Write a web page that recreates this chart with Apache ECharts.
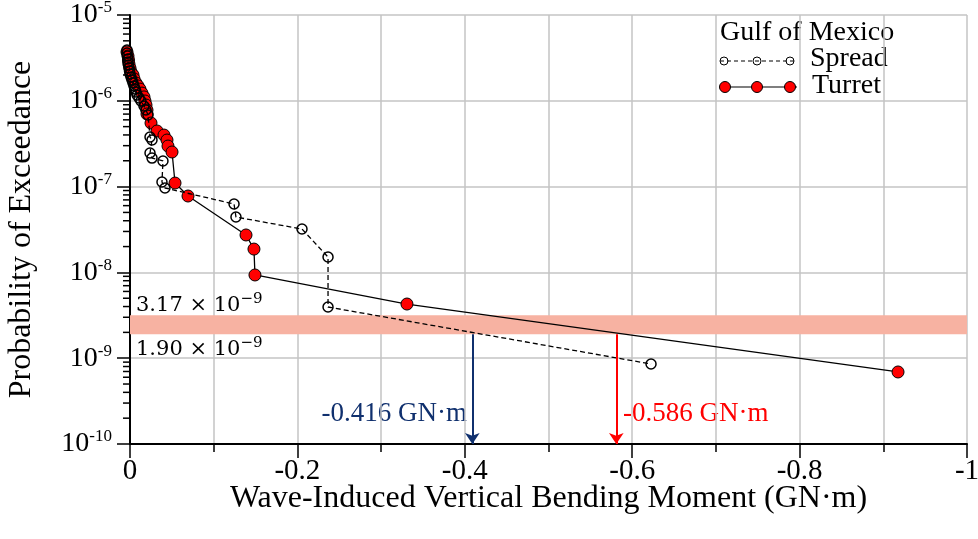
<!DOCTYPE html>
<html><head><meta charset="utf-8">
<script src="https://cdn.jsdelivr.net/npm/echarts@6/dist/echarts.min.js"></script>
<style>html,body{margin:0;padding:0;background:#fff}#c{width:978px;height:539px}</style>
</head><body><div id="c"></div>
<script>
// Spread (Gulf of Mexico) – VBM (GN·m) vs probability of exceedance
const spreadX = [0.0036,0.0036,0.003,0.0024,0.0024,0.0018,0.0012,0.0006,0,-0.0012,-0.0024,-0.0036,-0.0048,-0.006,-0.0072,-0.0084,-0.0108,-0.0131,-0.0167,-0.0191,-0.0215,-0.0239,-0.0263,-0.0239,-0.0263,-0.0394,-0.0382,-0.0418,-0.1243,-0.1266,-0.2055,-0.2366,-0.2366,-0.6225];
const spreadY = [3.91e-6,3.61e-6,3.33e-6,3.07e-6,2.83e-6,2.61e-6,2.41e-6,2.23e-6,2.05e-6,1.89e-6,1.75e-6,1.61e-6,1.49e-6,1.37e-6,1.27e-6,1.17e-6,1.08e-6,9.95e-7,8.70e-7,7.81e-7,6.83e-7,3.78e-7,3.49e-7,2.46e-7,2.15e-7,1.99e-7,1.13e-7,9.63e-8,6.27e-8,4.42e-8,3.20e-8,1.51e-8,3.95e-9,8.56e-10];
// Turret (Gulf of Mexico)
const turretX = [0.0036,0.0024,0.0018,0.0012,0,-0.0012,-0.0036,-0.0048,-0.0072,-0.0096,-0.0119,-0.0143,-0.0167,-0.0179,-0.0191,-0.0203,-0.0203,-0.0251,-0.0323,-0.0406,-0.0442,-0.0454,-0.0502,-0.0538,-0.0693,-0.1386,-0.1481,-0.1493,-0.3309,-0.9176];
const turretY = [3.71e-6,3.33e-6,2.99e-6,2.68e-6,2.41e-6,2.17e-6,2.00e-6,1.80e-6,1.61e-6,1.49e-6,1.37e-6,1.23e-6,1.11e-6,9.95e-7,8.93e-7,7.81e-7,7.02e-7,5.51e-7,4.45e-7,3.99e-7,3.49e-7,2.97e-7,2.53e-7,1.10e-7,7.77e-8,2.73e-8,1.87e-8,9.33e-9,4.28e-9,6.91e-10];
// Target exceedance band and crossing moments
const bandLow = 1.90e-9, bandHigh = 3.17e-9;
const crossSpread = -0.409, crossTurret = -0.581;
const crossSpreadLabel = '-0.416 GN·m', crossTurretLabel = '-0.586 GN·m';
const decades = [-10,-9,-8,-7,-6];
const xMin = -1, xMax = 0, xStep = 0.2;
const yMin = 1e-10, yMax = 1e-5;

const minorVals = [];
decades.forEach(e => { for (let k = 2; k <= 9; k++) minorVals.push([0, k * Math.pow(10, e)]); });

const serif = 'Liberation Serif';
const chart = echarts.init(document.getElementById('c'));
const supRich = {
  b: {fontFamily: 'DejaVu Serif', fontSize: 21, color: '#000'},
  s: {fontFamily: 'DejaVu Serif', fontSize: 15, color: '#000', padding: [0,0,12,0]}
};
chart.setOption({
  animation: false,
  grid: {left: 130, right: 11, top: 15, bottom: 95, containLabel: false, outerBoundsMode: 'none'},
  xAxis: {
    type: 'value', inverse: true, min: xMin, max: xMax, interval: xStep,
    name: 'Wave-Induced Vertical Bending Moment (GN·m)', nameLocation: 'middle', nameGap: 39, nameMoveOverlap: false,
    nameTextStyle: {fontFamily: serif, fontSize: 32, color: '#000'},
    axisLine: {show: true, onZero: false, lineStyle: {color: '#000', width: 2}},
    axisTick: {show: true, length: 14, lineStyle: {color: '#000', width: 1.5}},
    minorTick: {show: true, splitNumber: 2, length: 8, lineStyle: {color: '#000', width: 1.5}},
    axisLabel: {fontFamily: serif, fontSize: 29, color: '#000', margin: 13,
      formatter: v => Math.abs(v) < 1e-9 ? '0' : String(Math.round(v * 10) / 10)},
    splitLine: {show: true, lineStyle: {color: '#c4c4c4', width: 1.5}},
    minorSplitLine: {show: true, lineStyle: {color: '#c4c4c4', width: 1.5}}
  },
  yAxis: {
    type: 'log', logBase: 10, min: yMin, max: yMax,
    name: 'Probability of Exceedance', nameLocation: 'middle', nameGap: 92, nameRotate: 90, nameMoveOverlap: false,
    nameTextStyle: {fontFamily: serif, fontSize: 32, color: '#000'},
    axisLine: {show: true, onZero: false, lineStyle: {color: '#000', width: 2}},
    axisTick: {show: true, length: 13, lineStyle: {color: '#000', width: 1.5}},
    axisLabel: {margin: 18, color: '#000',
      formatter: v => '{b|10}{s|' + Math.round(Math.log10(v)) + '}',
      rich: {b: {fontFamily: serif, fontSize: 28, color: '#000'}, s: {fontFamily: serif, fontSize: 17, color: '#000', padding: [0,0,14,0]}}},
    splitLine: {show: true, lineStyle: {color: '#c4c4c4', width: 1.5}}
  },
  series: [
    {
      type: 'custom', silent: true, clip: false, z: 1,
      data: minorVals,
      renderItem: (params, api) => {
        const p = api.coord([api.value(0), api.value(1)]);
        return {type: 'line', shape: {x1: p[0] - 7, y1: p[1], x2: p[0], y2: p[1]}, style: {stroke: '#000', lineWidth: 1.5}};
      }
    },
    {
      name: 'Turret', type: 'line', clip: false, z: 3,
      data: turretX.map((x, i) => [x, turretY[i]]),
      symbol: 'circle', symbolSize: 12,
      itemStyle: {color: '#ff0000', borderColor: '#000', borderWidth: 1},
      lineStyle: {color: '#000', width: 1.3},
      markArea: {silent: true, itemStyle: {color: '#f7b2a2', opacity: 1},
        data: [[{xAxis: xMax, yAxis: bandLow}, {xAxis: xMin, yAxis: bandHigh}]]}
    },
    {
      name: 'Spread', type: 'line', clip: false, z: 4,
      data: spreadX.map((x, i) => [x, spreadY[i]]),
      symbol: 'circle', symbolSize: 10,
      itemStyle: {color: 'rgba(0,0,0,0)', borderColor: '#000', borderWidth: 1.5},
      lineStyle: {color: '#000', width: 1.3, type: [5, 3]},
      markLine: {silent: true, symbol: ['none', 'arrow'], symbolSize: 11, label: {show: false},
        data: [
          [{coord: [crossSpread, bandLow], lineStyle: {color: '#10306e', width: 2, type: 'solid'}, itemStyle: {color: '#10306e'}},
           {coord: [crossSpread, yMin]}],
          [{coord: [crossTurret, bandLow], lineStyle: {color: '#ff0000', width: 2, type: 'solid'}, itemStyle: {color: '#ff0000'}},
           {coord: [crossTurret, yMin]}]
        ]}
    }
  ],
  graphic: [
    {type: 'text', left: 136, top: 292, style: {text: '{b|3.17 × 10}{s|−9}', rich: supRich}},
    {type: 'text', left: 136, top: 336, style: {text: '{b|1.90 × 10}{s|−9}', rich: supRich}},
    {type: 'text', x: 467, y: 414, style: {text: crossSpreadLabel, fontFamily: serif, fontSize: 27, fill: '#10306e', align: 'right', verticalAlign: 'middle'}},
    {type: 'text', x: 623, y: 414, style: {text: crossTurretLabel, fontFamily: serif, fontSize: 27, fill: '#ff0000', align: 'left', verticalAlign: 'middle'}},
    {type: 'text', x: 720, y: 33, style: {text: 'Gulf of Mexico', fontFamily: serif, fontSize: 28, fill: '#000', verticalAlign: 'middle'}},
    {type: 'line', shape: {x1: 720, y1: 61, x2: 797, y2: 61}, style: {stroke: '#000', lineWidth: 1.2, lineDash: [4, 3]}},
    {type: 'circle', shape: {cx: 724, cy: 61, r: 4}, style: {fill: 'rgba(0,0,0,0)', stroke: '#000', lineWidth: 1}},
    {type: 'circle', shape: {cx: 757, cy: 61, r: 4}, style: {fill: 'rgba(0,0,0,0)', stroke: '#000', lineWidth: 1}},
    {type: 'circle', shape: {cx: 790, cy: 61, r: 4}, style: {fill: 'rgba(0,0,0,0)', stroke: '#000', lineWidth: 1}},
    {type: 'text', x: 810, y: 59, style: {text: 'Spread', fontFamily: serif, fontSize: 28, fill: '#000', verticalAlign: 'middle'}},
    {type: 'line', shape: {x1: 720, y1: 87, x2: 797, y2: 87}, style: {stroke: '#000', lineWidth: 1.2}},
    {type: 'circle', shape: {cx: 725, cy: 87, r: 5.5}, style: {fill: '#ff0000', stroke: '#000', lineWidth: 1}},
    {type: 'circle', shape: {cx: 757, cy: 87, r: 5.5}, style: {fill: '#ff0000', stroke: '#000', lineWidth: 1}},
    {type: 'circle', shape: {cx: 790, cy: 87, r: 5.5}, style: {fill: '#ff0000', stroke: '#000', lineWidth: 1}},
    {type: 'text', x: 812, y: 86, style: {text: 'Turret', fontFamily: serif, fontSize: 28, fill: '#000', verticalAlign: 'middle'}}
  ]
});
</script></body></html>
